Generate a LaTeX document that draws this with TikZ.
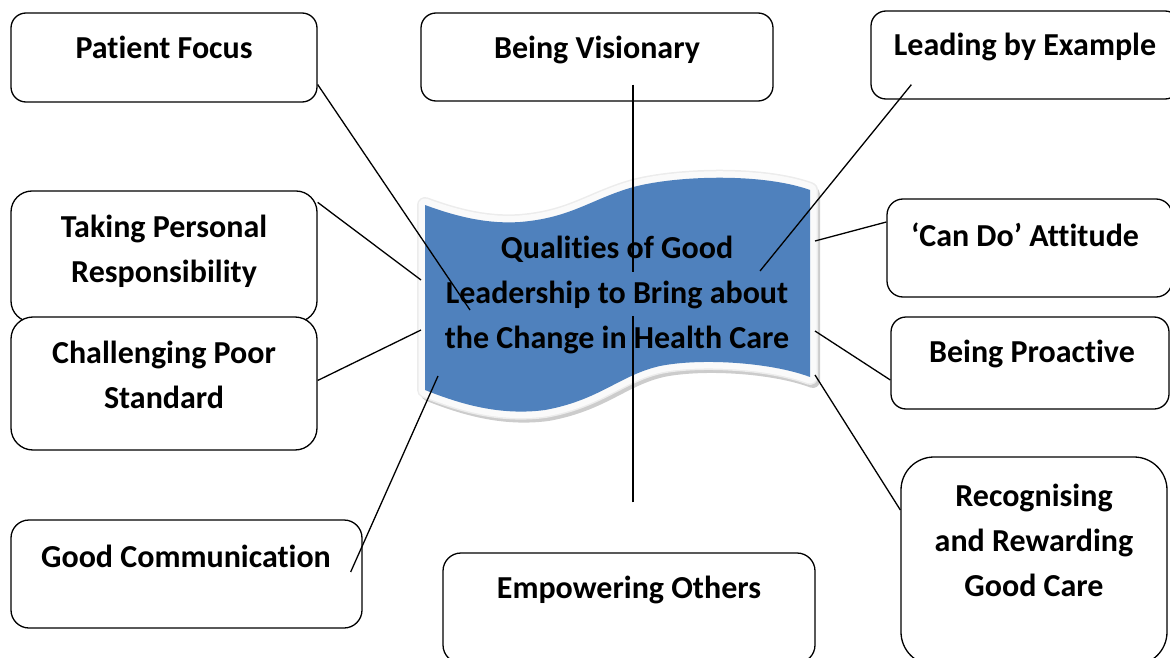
\documentclass[tikz,border=0pt]{standalone}
\usepackage{fontspec}
\setmainfont{Carlito}[Ligatures=NoCommon]
\usepackage{xcolor}
\definecolor{bannerblue}{RGB}{79,129,189}
\usepackage{tikz}
\tikzset{
  qualbox/.style={draw, line width=1.3pt, fill=white, inner sep=0pt},
  qualtext/.style={font=\fontsize{32}{45}\selectfont\bfseries,
    align=center, inner sep=0pt, anchor=base},
  link/.style={line width=1.3pt},
}
% wavy banner outline, pixel units
\newcommand{\bannerpath}{(425,205) .. controls (460,218) and (490,224) .. (520,222)
  .. controls (570,218) and (590,200) .. (630,188)
  .. controls (670,176) and (760,172) .. (810,190) -- (810,377)
  .. controls (770,362) and (700,358) .. (660,366)
  .. controls (620,375) and (600,400) .. (545,410)
  .. controls (500,416) and (460,404) .. (425,390) -- cycle}

\begin{document}
\begin{tikzpicture}[x=1pt, y=-1pt]
  \useasboundingbox (0,0) rectangle (1170,658);
  \clip (0,0) rectangle (1170,658);

  % banner with frame and shadow
  \filldraw[gray!40, line width=14pt, line join=round, shift={(3,4)}] \bannerpath;
  \draw[gray!15, line width=16pt, line join=round] \bannerpath;
  \draw[gray!4, line width=13pt, line join=round] \bannerpath;
  \fill[bannerblue] \bannerpath;
  % multi-line text sits on its last baseline
  \node[qualtext] (title) at (617,348) {Qualities of Good\\
    Leadership to Bring about\\the Change in Health Care};

  % left column
  \node[qualbox, minimum width=306pt, minimum height=89pt, rounded corners=15pt] (pf) at (164,57.5) {};
  \node[qualtext] (pf-t) at (164,59) {Patient Focus};
  \node[qualbox, minimum width=306pt, minimum height=131pt, rounded corners=21pt] (tp) at (164,256.5) {};
  \node[qualtext] (tp-t) at (164,282) {Taking Personal\\Responsibility};
  \node[qualbox, minimum width=306pt, minimum height=133pt, rounded corners=22pt] (cp) at (164,383.5) {};
  \node[qualtext] (cp-t) at (164,408) {Challenging Poor\\Standard};
  \node[qualbox, minimum width=351pt, minimum height=108pt, rounded corners=18pt] (gc) at (186.5,574) {};
  \node[qualtext] (gc-t) at (186,567) {Good Communication};

  % middle column
  \node[qualbox, minimum width=352pt, minimum height=88pt, rounded corners=15pt] (bv) at (597,57) {};
  \node[qualtext] (bv-t) at (597,59) {Being Visionary};
  \node[qualbox, minimum width=372pt, minimum height=110pt, rounded corners=18pt] (eo) at (629,608) {};
  \node[qualtext] (eo-t) at (629,598) {Empowering Others};

  % right column
  \node[qualbox, minimum width=309pt, minimum height=88pt, rounded corners=15pt] (le) at (1025.5,55) {};
  \node[qualtext] (le-t) at (1025,56) {Leading by Example};
  \node[qualbox, minimum width=285pt, minimum height=98pt, rounded corners=16pt] (cd) at (1029.5,248) {};
  \node[qualtext] (cd-t) at (1025,246) {`Can Do' Attitude};
  \node[qualbox, minimum width=278pt, minimum height=92pt, rounded corners=15pt] (bp) at (1030,363) {};
  \node[qualtext] (bp-t) at (1032,362) {Being Proactive};
  \node[qualbox, minimum width=266pt, minimum height=208pt, rounded corners=33pt] (rr) at (1034,561) {};
  \node[qualtext] (rr-t) at (1034,596) {Recognising\\and Rewarding\\Good Care};

  % free ends on the banner
  \coordinate (pf-end) at (470,310);
  \coordinate (bv-end) at (633,272);
  \coordinate (le-end) at (760,271);
  \coordinate (tp-end) at (421,280);
  \coordinate (cp-end) at (421,330);
  \coordinate (gc-end) at (438,376);
  \coordinate (eo-end) at (633,316);
  \coordinate (cd-end) at (815,241);
  \coordinate (bp-end) at (815,331);
  \coordinate (rr-end) at (815,375);

  % connectors
  \draw[link] ([yshift=-27pt]pf.east) -- (pf-end);
  \draw[link] ([xshift=36pt, yshift=17pt]bv.south) -- (bv-end);
  \draw[link] ([xshift=41pt, yshift=15pt]le.south west) -- (le-end);
  \draw[link] ([yshift=-12pt]tp.north east) -- (tp-end);
  \draw[link] ([yshift=3pt]cp.east) -- (cp-end);
  \draw[link] ([xshift=-12pt, yshift=2pt]gc.east) -- (gc-end);
  \draw[link] ([xshift=4pt, yshift=50pt]eo.north) -- (eo-end);
  \draw[link] ([yshift=26pt]cd.west) -- (cd-end);
  \draw[link] ([yshift=-17pt]bp.west) -- (bp-end);
  \draw[link] ([yshift=51pt]rr.west) -- (rr-end);
\end{tikzpicture}
\end{document}
